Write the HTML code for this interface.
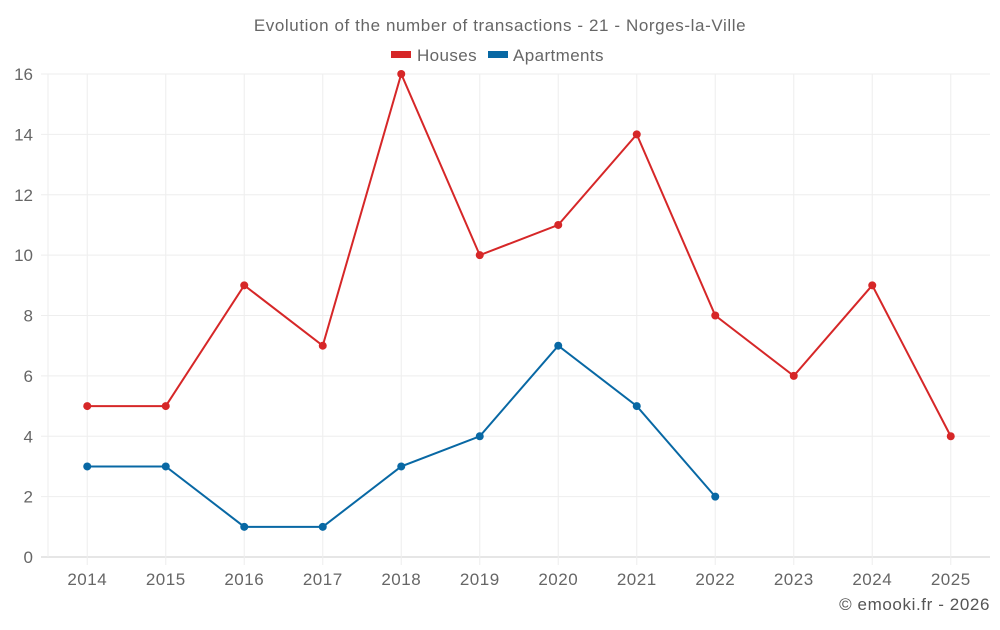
<!DOCTYPE html>
<html><head><meta charset="utf-8"><style>
body{margin:0;background:#fff;font-family:"Liberation Sans",sans-serif;}
svg text{font-family:"Liberation Sans",sans-serif;}
</style></head><body>
<svg id="c" width="1000" height="625" xmlns="http://www.w3.org/2000/svg">
<text x="500" y="31" text-anchor="middle" font-size="17" letter-spacing="0.6" fill="#666">Evolution of the number of transactions - 21 - Norges-la-Ville</text>
<g><rect x="391" y="51" width="20" height="7" fill="#d62728"/><text x="417" y="61" font-size="17" letter-spacing="0.4" fill="#666">Houses</text></g>
<g><rect x="488" y="51" width="20" height="7" fill="#0868a4"/><text x="513" y="61" font-size="17" letter-spacing="0.4" fill="#666">Apartments</text></g>
<g id="grid"></g><g id="series"></g>
<text x="990" y="610" text-anchor="end" font-size="17" letter-spacing="0.6" fill="#555">© emooki.fr - 2026</text>
</svg>
<script>
const categories=[2014,2015,2016,2017,2018,2019,2020,2021,2022,2023,2024,2025];
const houses=[5,5,9,7,16,10,11,14,8,6,9,4];
const apartments=[3,3,1,1,3,4,7,5,2,null,null,null];
const yTicks=[0,2,4,6,8,10,12,14,16];
const NS="http://www.w3.org/2000/svg";
const L=48,R=990,T=74,B=557,yMax=16;
const bw=(R-L)/categories.length;
const x=i=>L+bw*(i+0.5);
const y=v=>B-(v/yMax)*(B-T);
function mk(tag,at,parent){const e=document.createElementNS(NS,tag);for(const k in at)e.setAttribute(k,at[k]);parent.appendChild(e);return e;}
const g=document.getElementById('grid'),s=document.getElementById('series');
yTicks.forEach(v=>{
 const l=mk('line',{x1:41,x2:R,y1:y(v),y2:y(v),stroke:v===0?'#ccc':'#eee'},g);
 
 
 const t=mk('text',{x:33,y:y(v)+6,'text-anchor':'end','font-size':17,fill:'#666'},g);t.textContent=v;
 
 
});
const ax=mk('line',{x1:L,x2:L,y1:T,y2:B,stroke:'#eee'},g);


categories.forEach((c,i)=>{
 const l=mk('line',{x1:x(i),x2:x(i),y1:T,y2:B+8,stroke:'#eee'},g);
 
 
 const t=mk('text',{x:x(i),y:585,'text-anchor':'middle','font-size':17,'letter-spacing':0.5,fill:'#666'},g);t.textContent=c;
 
 
});
function draw(data,color,name){
 let d='',started=false;
 data.forEach((v,i)=>{if(v==null){started=false;return;}d+=(started?'L':'M')+x(i)+' '+y(v)+' ';started=true;});
 const p=mk('path',{d:d,fill:'none',stroke:color,'stroke-width':2},s);
 
 
 data.forEach((v,i)=>{if(v==null)return;
  const c=mk('circle',{cx:x(i),cy:y(v),r:4,fill:color},s);
  
  
 });
}
draw(houses,'#d62728','houses');
draw(apartments,'#0868a4','apartments');
</script>
</body></html>
